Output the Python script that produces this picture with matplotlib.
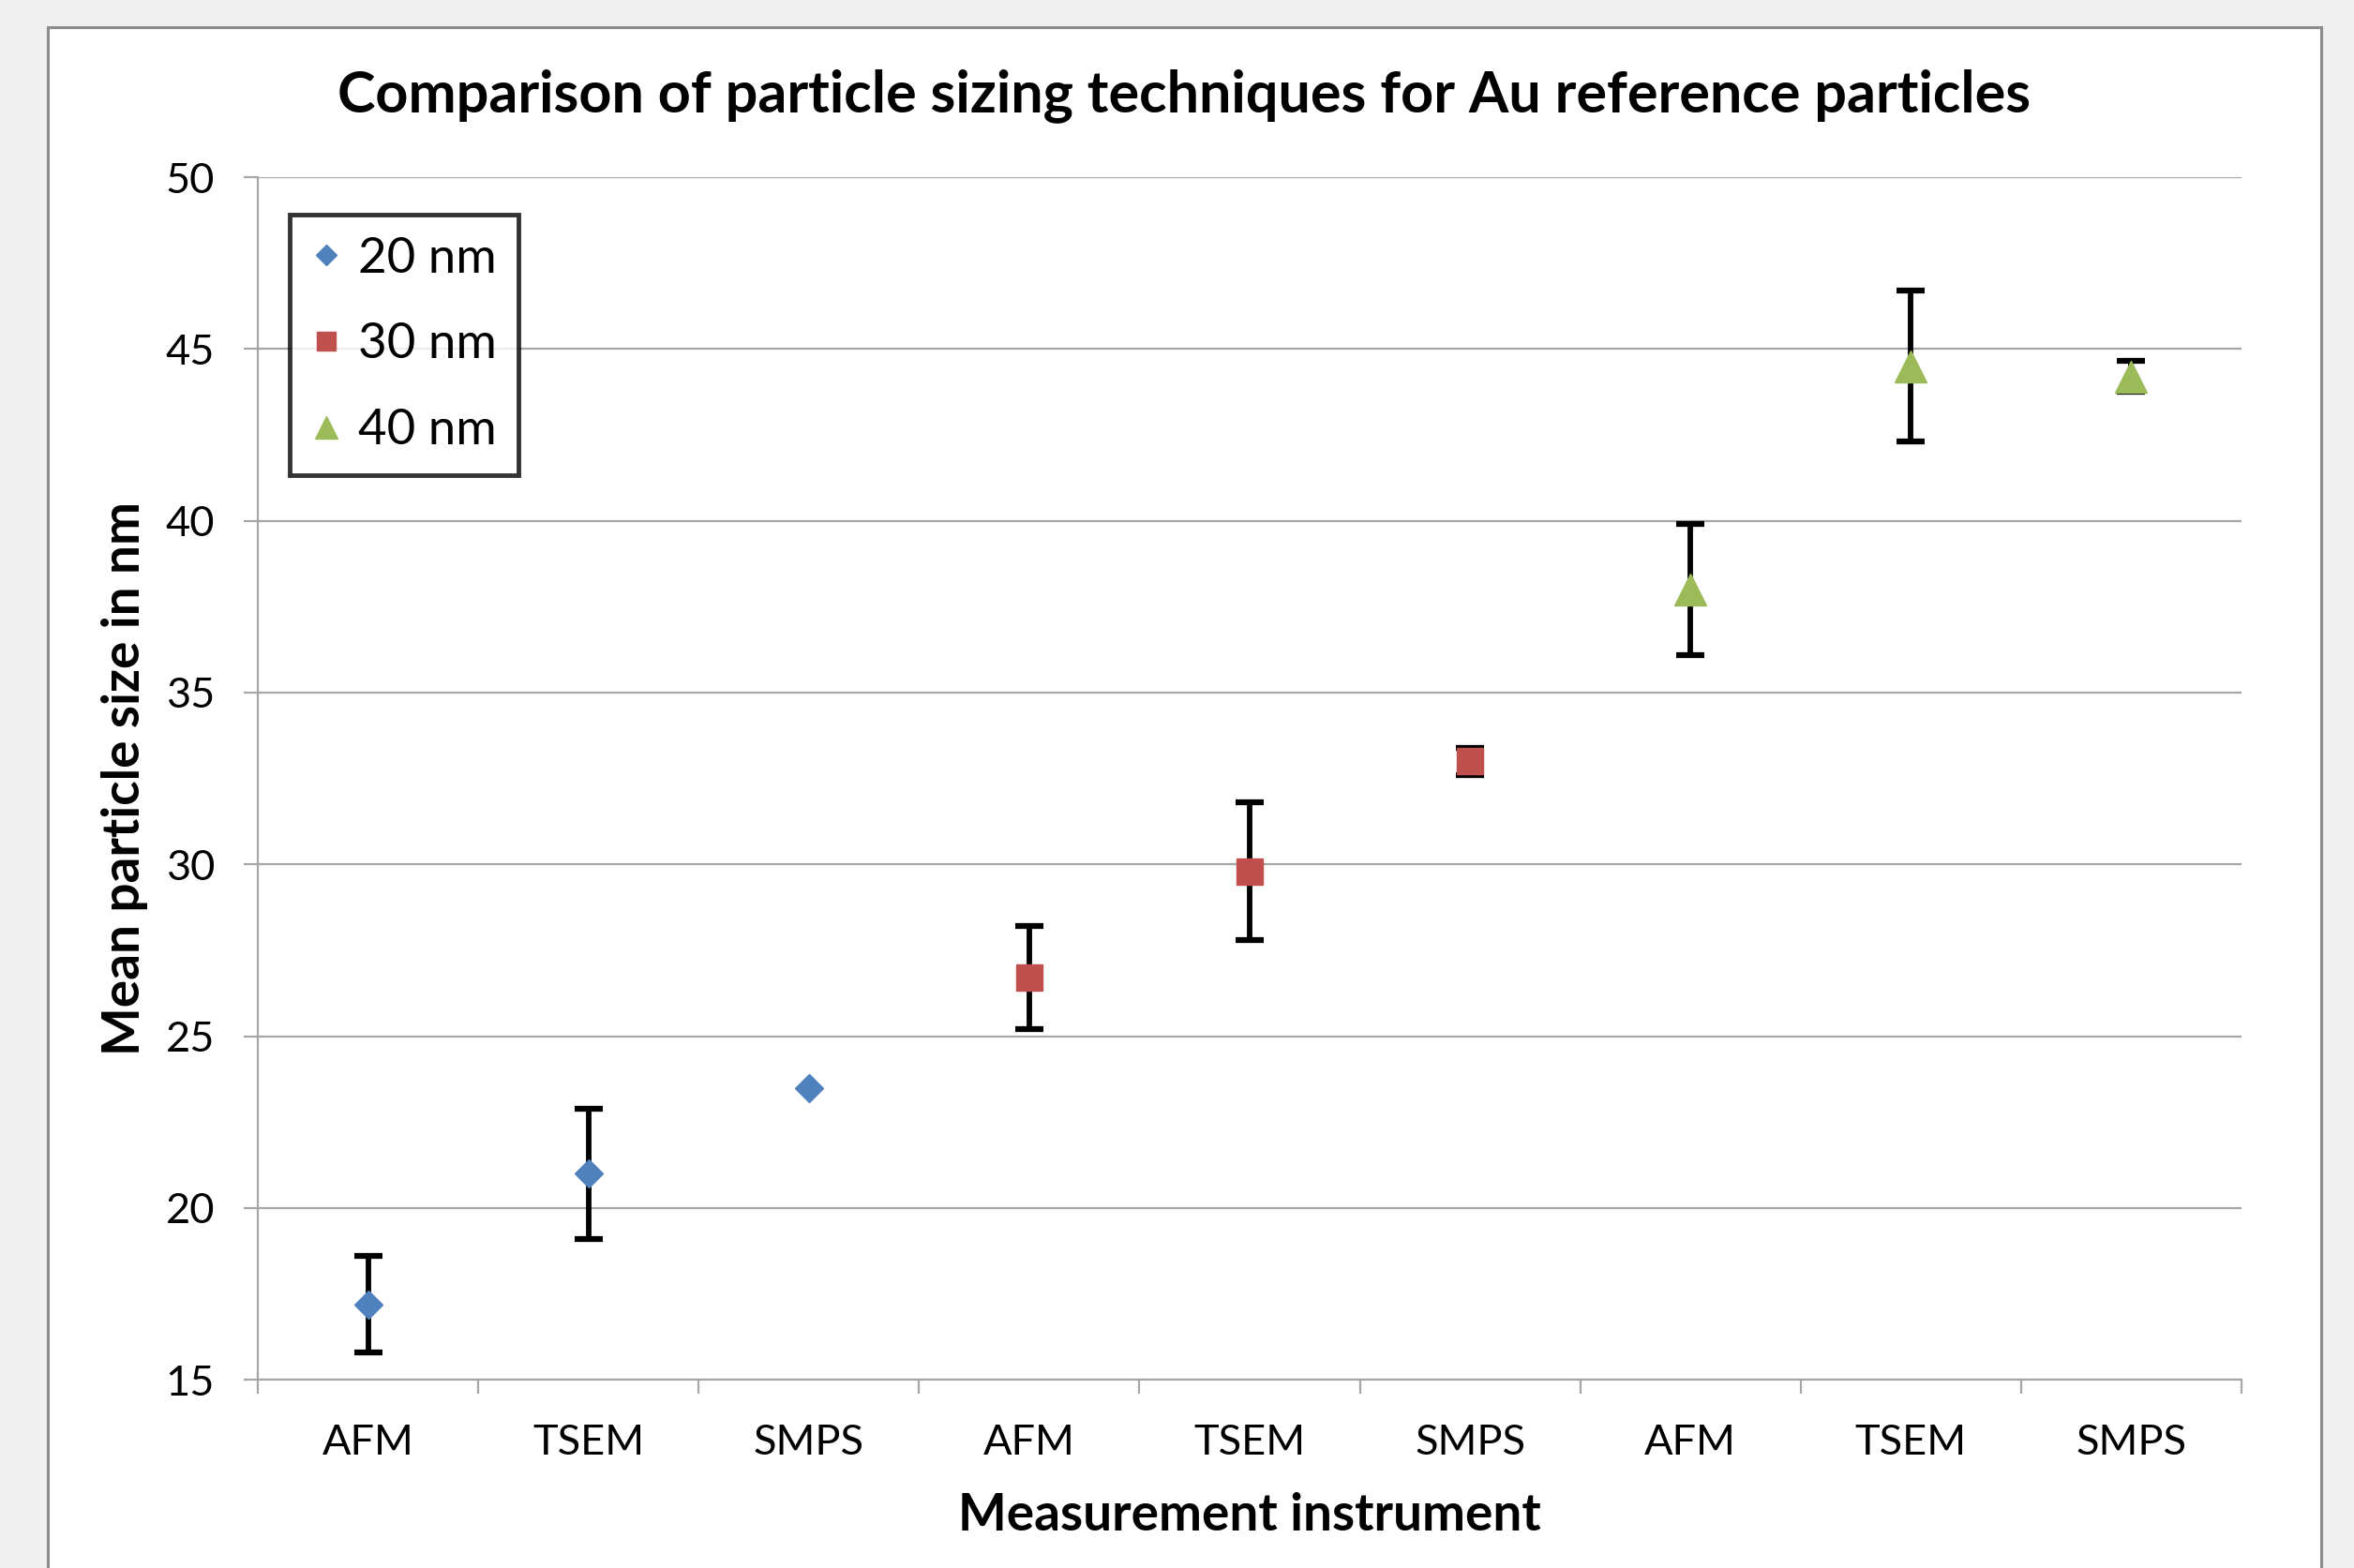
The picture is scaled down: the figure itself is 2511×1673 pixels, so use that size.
import matplotlib
import matplotlib.pyplot as plt
from matplotlib.patches import Rectangle
from matplotlib.ticker import FixedLocator, NullFormatter

matplotlib.rcParams['font.family'] = ['Lato', 'DejaVu Sans']

# Data
instruments = ['AFM', 'TSEM', 'SMPS', 'AFM', 'TSEM', 'SMPS', 'AFM', 'TSEM', 'SMPS']
series_names = ['20 nm', '30 nm', '40 nm']
x_20 = [1, 2, 3]
y_20 = [17.2, 21.0, 23.5]
err_20 = [1.4, 1.9, 0.0]
x_30 = [4, 5, 6]
y_30 = [26.7, 29.8, 33.0]
err_30 = [1.5, 2.0, 0.4]
x_40 = [7, 8, 9]
y_40 = [38.0, 44.5, 44.2]
err_40 = [1.9, 2.2, 0.45]

colors = ['#4F81BD', '#C0504D', '#9BBB59']
markers = ['D', 's', '^']
msizes = [15, 20, 24]

fig = plt.figure(figsize=(25.11, 16.73), dpi=100)
fig.patch.set_facecolor('#F0F0F0')

# white chart panel
panel = Rectangle((0.0203, -0.05), 0.9657, 1.0327, transform=fig.transFigure,
                  facecolor='white', edgecolor='#8C8C8C', linewidth=2.2, zorder=-10)
fig.patches.append(panel)

ax = fig.add_axes([0.1095, 0.120, 0.8427, 0.767])
ax.set_facecolor('white')

xs = [x_20, x_30, x_40]
ys = [y_20, y_30, y_40]
errs = [err_20, err_30, err_40]
for i in range(3):
    # only points that have an error bar
    ex = [x for x, e in zip(xs[i], errs[i]) if e > 0]
    ey = [y for y, e in zip(ys[i], errs[i]) if e > 0]
    ee = [e for e in errs[i] if e > 0]
    ax.errorbar(ex, ey, yerr=ee, fmt='none', ecolor='black',
                elinewidth=4.2, capsize=11, capthick=4.5, zorder=3)
    ax.plot(xs[i], ys[i], linestyle='none', marker=markers[i],
            markersize=msizes[i], color=colors[i], label=series_names[i], zorder=4)

ax.set_xlim(0.5, 9.5)
ax.set_ylim(15, 50)
ax.set_yticks([15, 20, 25, 30, 35, 40, 45, 50])
ax.yaxis.grid(True, color='#A6A6A6', linewidth=1.6)
ax.set_axisbelow(True)

ax.set_xticks(range(1, 10))
ax.set_xticklabels(instruments)
ax.xaxis.set_minor_locator(FixedLocator([0.5 + k for k in range(10)]))
ax.xaxis.set_minor_formatter(NullFormatter())
ax.tick_params(axis='x', which='major', length=0, pad=34, labelsize=32.5)
ax.tick_params(axis='x', which='minor', length=11, width=1.6, color='#A6A6A6')
ax.tick_params(axis='y', length=11, width=1.6, color='#A6A6A6', pad=22, labelsize=32.5)

for s in ['top', 'right']:
    ax.spines[s].set_visible(False)
for s in ['left', 'bottom']:
    ax.spines[s].set_color('#A6A6A6')
    ax.spines[s].set_linewidth(1.6)

ax.set_xlabel('Measurement instrument', fontsize=39.5, fontweight='bold', va='center')
ax.xaxis.set_label_coords(0.5, -0.113)
ax.set_ylabel('Mean particle size in nm', fontsize=39.5, fontweight='bold', va='center')
ax.yaxis.set_label_coords(-0.067, 0.5)

fig.text(0.503, 0.939, 'Comparison of particle sizing techniques for Au reference particles',
         ha='center', va='center', fontsize=44, fontweight='bold')

leg = ax.legend(loc='upper left', bbox_to_anchor=(0.016, 0.969), fontsize=38,
                frameon=True, fancybox=False, edgecolor='black', handletextpad=0.33,
                handlelength=0.6, borderpad=0.45, labelspacing=0.85, markerscale=0.72,
                borderaxespad=0)
leg.get_frame().set_linewidth(3.5)

fig.savefig('out.png', dpi=100, facecolor=fig.get_facecolor())
